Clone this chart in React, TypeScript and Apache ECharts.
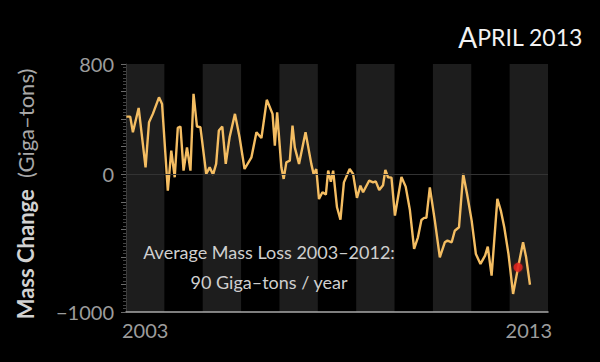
import React, { useEffect, useRef } from "react";
import * as echarts from "echarts";

// Decimal year of each reading
const years: number[] = [
  2003.01, 2003.11, 2003.18, 2003.33, 2003.51, 2003.6, 2003.7, 2003.86, 2003.94,
  2004.09, 2004.18, 2004.27, 2004.35, 2004.42, 2004.5, 2004.59, 2004.68, 2004.76,
  2004.85, 2004.94, 2005.09, 2005.18, 2005.27, 2005.35, 2005.42, 2005.51, 2005.6,
  2005.7, 2005.84, 2005.96, 2006.09, 2006.27, 2006.4, 2006.53, 2006.67, 2006.82,
  2006.88, 2006.94, 2007.05, 2007.11, 2007.18, 2007.27, 2007.34, 2007.4, 2007.51,
  2007.68, 2007.83, 2007.89, 2007.96, 2008.03, 2008.12, 2008.21, 2008.27, 2008.34,
  2008.4, 2008.5, 2008.59, 2008.68, 2008.83, 2008.92, 2009.02, 2009.11, 2009.18,
  2009.34, 2009.44, 2009.51, 2009.6, 2009.7, 2009.76, 2009.83, 2009.92, 2010.01,
  2010.18, 2010.29, 2010.4, 2010.51, 2010.61, 2010.7, 2010.77, 2010.83, 2010.92,
  2011.05, 2011.18, 2011.31, 2011.38, 2011.49, 2011.57, 2011.68, 2011.79, 2011.89,
  2012.01, 2012.12, 2012.24, 2012.36, 2012.43, 2012.53, 2012.68, 2012.77, 2012.86,
  2012.97, 2013.09, 2013.22, 2013.35, 2013.43, 2013.53,
];

// Mass change in giga-tons at each reading
const massChange: number[] = [
  418, 418, 304, 481, 50, 377, 438, 558, 510,
  -119, 171, -22, 336, 346, 26, 195, 26, 583,
  346, 341, 2, 50, -3, 75, 317, 346, 75,
  268, 438, 268, 38, 123, 304, 263, 540, 438,
  208, 450, 50, -34, 87, 99, 353, 195, 75,
  304, 75, 2, 38, -180, -131, -148, 26, -55,
  26, -240, -330, -59, 38, 2, -172, -83, -131,
  -46, -59, -52, -115, -80, 31, -22, -25, -300,
  -20, -90, -260, -542, -458, -332, -317, -317, -95,
  -337, -603, -494, -482, -494, -410, -385, 2, -143,
  -337, -579, -651, -591, -526, -736, -179, -264, -385,
  -579, -869, -676, -494, -603, -802,
];

// Highlighted reading (April 2013)
const highlightYear = 2013.22;
const highlightValue = -676;

// Axis range and labels
const yearMin = 2003;
const yearMax = 2014;
const yearLabels: number[] = [2003, 2013];
const yMin = -1000;
const yMax = 800;
const yLabels: number[] = [800, 0, -1000];

const titleMain = "PRIL 2013";
const noteLine1 = "Average Mass Loss 2003–2012:";
const noteLine2 = "90 Giga–tons / year";

const FONT = "Lato, 'Noto Sans', sans-serif";

export default function App() {
  const ref = useRef<HTMLDivElement>(null);

  useEffect(() => {
    if (!ref.current) return;
    const chart = echarts.init(ref.current, undefined, { renderer: "svg" });
    const lineData = years.map((y, i) => [y, massChange[i]]);

    chart.setOption({
      animation: false,
      backgroundColor: "#000000",
      textStyle: { fontFamily: FONT },
      grid: { left: 126, right: 52, top: 64, bottom: 50 },
      xAxis: {
        type: "value",
        min: yearMin,
        max: yearMax,
        interval: 1,
        axisLine: {
          show: true,
          onZero: false,
          lineStyle: { color: "#a8a8a8", width: 1.5 },
        },
        axisTick: { show: false },
        splitLine: { show: false },
        splitArea: {
          show: true,
          areaStyle: { color: ["#1d1d1d", "rgba(0,0,0,0)"] },
        },
        axisLabel: {
          customValues: yearLabels.map((y) => y + 0.5),
          formatter: (v: number) => String(Math.floor(v)),
          color: "#9c9c9c",
          fontSize: 20,
          fontFamily: FONT,
          margin: 8,
        },
      },
      yAxis: {
        type: "value",
        min: yMin,
        max: yMax,
        interval: 200,
        axisLine: { show: true, lineStyle: { color: "#3a3a3a", width: 1 } },
        axisTick: { show: true, length: 5, lineStyle: { color: "#6a6a6a" } },
        minorTick: {
          show: true,
          splitNumber: 8,
          length: 3,
          lineStyle: { color: "#444444" },
        },
        splitLine: { show: false },
        axisLabel: {
          formatter: (v: number) =>
            yLabels.includes(v) ? (v < 0 ? "−" + Math.abs(v) : String(v)) : "",
          color: "#9c9c9c",
          fontSize: 20,
          fontFamily: FONT,
          margin: 12,
        },
      },
      series: [
        {
          type: "line",
          data: lineData,
          symbol: "none",
          lineStyle: { color: "#f4bd62", width: 2.4 },
          z: 3,
          markLine: {
            silent: true,
            symbol: "none",
            label: { show: false },
            lineStyle: { color: "#333333", width: 1, type: "solid" },
            data: [{ yAxis: 0 }],
          },
        },
        {
          type: "scatter",
          data: [[highlightYear, highlightValue]],
          symbolSize: 9,
          itemStyle: {
            color: "#e3241c",
            shadowColor: "rgba(227,36,28,0.7)",
            shadowBlur: 3,
          },
          z: 5,
        },
      ],
      graphic: [
        {
          type: "text",
          right: 17,
          top: 23,
          z: 100,
          style: {
            text: "{a|A}{b|" + titleMain + "}",
            rich: {
              a: { fontSize: 28, fill: "#f2f2f2", fontFamily: FONT },
              b: { fontSize: 23, fill: "#f2f2f2", fontFamily: FONT },
            },
          },
        },
        {
          type: "text",
          x: 25,
          y: 194,
          z: 100,
          rotation: Math.PI / 2,
          style: {
            text: "{b|Mass Change}{r|  (Giga–tons)}",
            align: "center",
            verticalAlign: "middle",
            rich: {
              b: { fontSize: 22, fontWeight: "bold", fill: "#d2d2d2", fontFamily: FONT },
              r: { fontSize: 22, fill: "#a8a8a8", fontFamily: FONT },
            },
          },
        },
        {
          type: "text",
          x: 269,
          y: 252,
          z: 100,
          style: {
            text: noteLine1,
            align: "center",
            verticalAlign: "middle",
            fontSize: 18,
            fill: "#cfcfcf",
            fontFamily: FONT,
          },
        },
        {
          type: "text",
          x: 269,
          y: 282,
          z: 100,
          style: {
            text: noteLine2,
            align: "center",
            verticalAlign: "middle",
            fontSize: 18,
            fill: "#cfcfcf",
            fontFamily: FONT,
          },
        },
      ],
    });

    return () => chart.dispose();
  }, []);

  return (
    <div
      ref={ref}
      style={{ position: "fixed", left: 0, top: 0, width: 600, height: 362 }}
    />
  );
}
